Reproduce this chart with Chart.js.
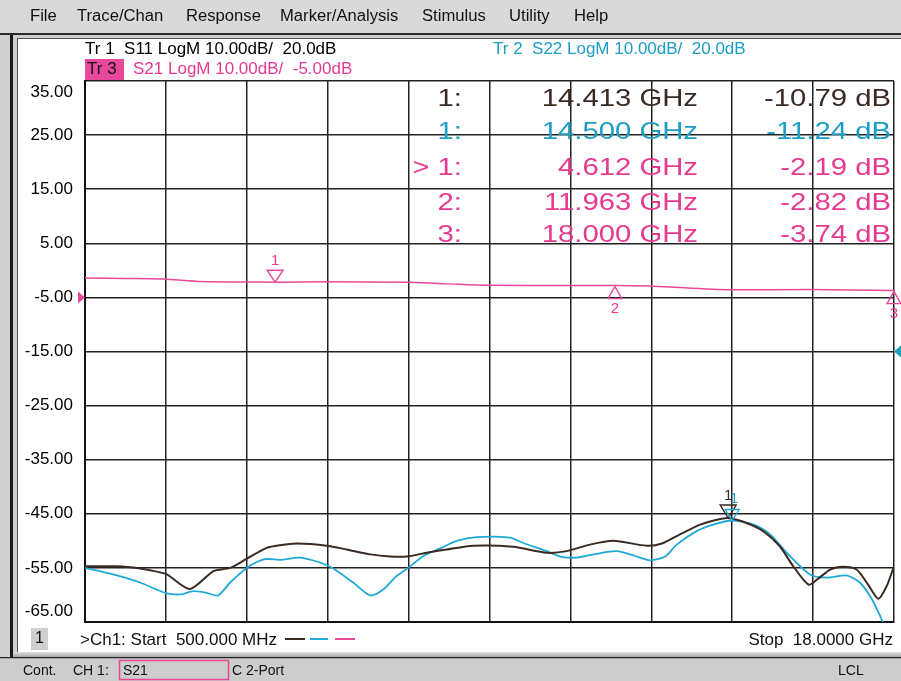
<!DOCTYPE html>
<html>
<head>
<meta charset="utf-8">
<script src="https://cdn.jsdelivr.net/npm/chart.js@4.4.1/dist/chart.umd.min.js"></script>
<style>
  body { margin: 0; background: #fff; }
</style>
</head>
<body>
<canvas id="vna" width="901" height="681"></canvas>
<script>
// sweep (GHz)
const startGHz = 0.5;
const stopGHz = 18.0;

// Tr 1 - S11 (dB)
const s11Freq = [0.5, 1.2, 1.69, 2.0, 2.27, 2.77, 3.28, 3.64, 4.0, 4.43, 4.72, 5.08, 5.73, 6.16, 6.67, 7.1, 7.46, 7.89, 8.32, 8.9, 9.76, 10.49, 10.92, 11.42, 11.93, 12.65, 12.98, 13.37, 13.81, 14.17, 14.413, 14.81, 15.17, 15.53, 15.82, 16.15, 16.33, 16.62, 16.9, 17.19, 17.44, 17.66, 17.84, 18.0];
const s11Db = [-19.7, -19.7, -20.1, -20.6, -21.2, -23.9, -20.6, -20.0, -18.3, -16.3, -15.8, -15.5, -15.9, -16.6, -17.5, -17.9, -17.9, -17.2, -16.6, -15.9, -16.1, -17.2, -16.9, -15.7, -15.0, -15.9, -15.5, -13.8, -12.0, -11.1, -10.79, -11.7, -13.2, -16.0, -19.7, -23.1, -22.2, -20.3, -19.8, -20.3, -23.1, -25.7, -23.4, -19.7];

// Tr 2 - S22 (dB), cyan trace
const s22Freq = [0.5, 1.11, 1.69, 2.23, 2.56, 2.84, 3.13, 3.38, 3.64, 4.0, 4.39, 4.72, 5.15, 5.58, 5.87, 6.3, 6.67, 6.95, 7.24, 7.49, 7.82, 8.18, 8.54, 8.97, 9.69, 9.98, 10.49, 10.78, 11.14, 11.5, 12.0, 12.36, 12.72, 13.05, 13.3, 13.73, 14.09, 14.5, 14.96, 15.32, 15.68, 16.18, 16.54, 16.97, 17.26, 17.51, 17.69, 17.82, 18.0];
const s22Db = [-20.0, -21.2, -22.7, -24.6, -24.9, -24.3, -24.6, -25.1, -22.7, -20.0, -18.4, -18.5, -18.1, -19.0, -20.1, -22.7, -25.1, -24.0, -21.5, -20.0, -17.8, -16.4, -15.0, -14.3, -14.4, -15.4, -16.9, -17.9, -18.1, -17.5, -16.9, -17.7, -18.6, -17.9, -15.7, -13.2, -12.0, -11.24, -12.0, -13.8, -17.2, -21.2, -21.8, -21.4, -22.7, -25.6, -28.7, -31.0, -32.0];

// Tr 3 - S21 (dB), pink trace
const s21Freq = [0.5, 1.4, 2.2, 3.0, 4.0, 4.612, 5.7, 7.5, 8.4, 9.2, 11.0, 11.963, 12.7, 13.6, 14.5, 16.2, 18.0];
const s21Db = [-1.4, -1.5, -1.6, -2.05, -2.15, -2.19, -2.1, -2.2, -2.5, -2.75, -2.8, -2.82, -2.9, -3.3, -3.6, -3.55, -3.74];

// markers
const s11MarkerFreq = [14.413];
const s11MarkerDb = [-10.79];
const s22MarkerFreq = [14.5];
const s22MarkerDb = [-11.24];
const s21MarkerFreq = [4.612, 11.963, 18.0];
const s21MarkerDb = [-2.19, -2.82, -3.74];

// axis labels (S21 scale, 10 dB/div, ref -5 dB)
const yTickLabels = [35, 25, 15, 5, -5, -15, -25, -35, -45, -55, -65];
// S11/S22 scale: 10 dB/div, ref 20 dB at the -15 line
const refS21 = -5;
const refS11S22 = 20;

const menuItems = ['File', 'Trace/Chan', 'Response', 'Marker/Analysis', 'Stimulus', 'Utility', 'Help'];
const menuX = [30, 77, 186, 280, 422, 509, 574];

const BROWN = '#3b2a22';
const CYAN = '#1fa9d6';
const PINK = '#e8489a';
const PINK_TXT = '#e63a90';
const CYAN_TXT = '#1c9ec4';
const FONT = '"Liberation Sans", Arial, sans-serif';

function txt(ctx, s, x, y, size, color, align, opts) {
  opts = opts || {};
  ctx.save();
  ctx.font = (opts.bold ? 'bold ' : '') + size + 'px ' + FONT;
  ctx.fillStyle = color;
  ctx.textAlign = align || 'left';
  ctx.textBaseline = 'middle';
  ctx.translate(x, y);
  ctx.scale(opts.sx || 1, 1);
  ctx.fillText(s, 0, 0);
  ctx.restore();
}

function tri(ctx, x, y, down, color, w, h) {
  ctx.save();
  ctx.strokeStyle = color;
  ctx.lineWidth = 1.4;
  ctx.beginPath();
  if (down) {
    ctx.moveTo(x, y); ctx.lineTo(x - w, y - h); ctx.lineTo(x + w, y - h);
  } else {
    ctx.moveTo(x, y); ctx.lineTo(x - w, y + h); ctx.lineTo(x + w, y + h);
  }
  ctx.closePath();
  ctx.stroke();
  ctx.restore();
}

const toXY = (f, d) => f.map((v, i) => ({ x: v, y: d[i] }));

const frame = {
  id: 'frame',
  beforeDraw(chart) {
    const ctx = chart.ctx;
    ctx.save();
    // outer grey
    ctx.fillStyle = '#cfcfcf';
    ctx.fillRect(0, 0, 901, 681);
    // menu bar
    ctx.fillStyle = '#d9d9d9';
    ctx.fillRect(0, 0, 901, 33);
    ctx.fillStyle = '#2a2a2a';
    ctx.fillRect(0, 33, 901, 2);
    // left frame
    ctx.fillStyle = '#1a1a1a';
    ctx.fillRect(10, 35, 3, 622);
    // white panel
    ctx.fillStyle = '#fff';
    ctx.fillRect(18, 39, 883, 613);
    ctx.strokeStyle = '#555';
    ctx.lineWidth = 1;
    ctx.strokeRect(17.5, 38.5, 890, 614);
    // status bar
    const g = ctx.createLinearGradient(0, 652, 0, 657);
    g.addColorStop(0, '#e0e0e0');
    g.addColorStop(1, '#a8a8a8');
    ctx.fillStyle = g;
    ctx.fillRect(13, 652, 888, 5);
    ctx.fillStyle = '#222';
    ctx.fillRect(0, 657, 901, 1.5);
    ctx.fillStyle = '#cdcdcd';
    ctx.fillRect(0, 658.5, 901, 23);
    ctx.restore();

    menuItems.forEach((m, i) => txt(ctx, m, menuX[i], 17, 16, '#111', 'left', { sx: 1.04 }));

    txt(ctx, 'Cont.', 23, 671, 14, '#111');
    txt(ctx, 'CH 1:', 73, 671, 14, '#111');
    ctx.save();
    ctx.strokeStyle = PINK;
    ctx.lineWidth = 1.5;
    ctx.strokeRect(119.5, 660.5, 109, 19);
    ctx.restore();
    txt(ctx, 'S21', 123, 671, 14, '#111');
    txt(ctx, 'C 2-Port', 232, 671, 14, '#111');
    txt(ctx, 'LCL', 838, 671, 14, '#111');
  },
  afterDraw(chart) {
    const ctx = chart.ctx;
    const xs = chart.scales.x;
    const ys = chart.scales.y;
    const y2 = chart.scales.y2;
    const area = chart.chartArea;

    // y labels
    yTickLabels.forEach(v => {
      let py = ys.getPixelForValue(v);
      py = Math.min(Math.max(py, area.top + 11), area.bottom - 11);
      txt(ctx, v.toFixed(2), 73, py, 17, '#000', 'right');
    });

    // trace headers
    txt(ctx, 'Tr 1  S11 LogM 10.00dB/  20.0dB', 85, 49, 17, '#000');
    txt(ctx, 'Tr 2  S22 LogM 10.00dB/  20.0dB', 493, 49, 17, CYAN_TXT);
    ctx.fillStyle = PINK;
    ctx.fillRect(85, 59, 39, 21);
    txt(ctx, 'Tr 3', 87, 69, 17, '#111');
    txt(ctx, 'S21 LogM 10.00dB/  -5.00dB', 133, 69, 17, PINK_TXT);

    // marker readout table
    const rows = [
      ['1:', s11MarkerFreq[0], s11MarkerDb[0], BROWN, 99],
      ['1:', s22MarkerFreq[0], s22MarkerDb[0], CYAN_TXT, 132],
      ['> 1:', s21MarkerFreq[0], s21MarkerDb[0], PINK_TXT, 168],
      ['2:', s21MarkerFreq[1], s21MarkerDb[1], PINK_TXT, 203],
      ['3:', s21MarkerFreq[2], s21MarkerDb[2], PINK_TXT, 235]
    ];
    rows.forEach(r => {
      txt(ctx, r[0], 462, r[4], 24, r[3], 'right', { sx: 1.22 });
      txt(ctx, r[1].toFixed(3) + ' GHz', 698, r[4], 24, r[3], 'right', { sx: 1.22 });
      txt(ctx, r[2].toFixed(2) + ' dB', 891, r[4], 24, r[3], 'right', { sx: 1.22 });
    });

    // S21 markers
    s21MarkerFreq.forEach((f, i) => {
      const px = xs.getPixelForValue(f);
      const py = ys.getPixelForValue(s21MarkerDb[i]);
      if (i === 0) {
        tri(ctx, px, py, true, PINK, 8, 12);
        txt(ctx, String(i + 1), px, py - 21, 15, PINK_TXT, 'center');
      } else {
        tri(ctx, px, py + 1, false, PINK, 7, 12);
        txt(ctx, String(i + 1), px, py + 23, 15, PINK_TXT, 'center');
      }
    });
    // S11 / S22 markers
    const bx = xs.getPixelForValue(s11MarkerFreq[0]);
    const by = y2.getPixelForValue(s11MarkerDb[0]);
    tri(ctx, bx, by, true, BROWN, 8, 13);
    txt(ctx, '1', bx, by - 22, 15, BROWN, 'center');
    const cx = xs.getPixelForValue(s22MarkerFreq[0]);
    const cy = y2.getPixelForValue(s22MarkerDb[0]);
    tri(ctx, cx, cy, true, CYAN, 7, 11);
    txt(ctx, '1', cx + 2, cy - 22, 15, CYAN_TXT, 'center');

    // reference arrows
    const ry = ys.getPixelForValue(refS21);
    ctx.save();
    ctx.fillStyle = PINK;
    ctx.beginPath();
    ctx.moveTo(78, ry - 6); ctx.lineTo(85, ry); ctx.lineTo(78, ry + 6); ctx.closePath();
    ctx.fill();
    const cyRef = y2.getPixelForValue(refS11S22);
    ctx.fillStyle = '#16a0b8';
    ctx.beginPath();
    ctx.moveTo(901, cyRef - 6); ctx.lineTo(894, cyRef); ctx.lineTo(901, cyRef + 6); ctx.closePath();
    ctx.fill();
    ctx.restore();

    // bottom info line
    ctx.save();
    ctx.fillStyle = '#cfcfcf';
    ctx.fillRect(31, 628, 17, 22);
    ctx.restore();
    txt(ctx, '1', 39.5, 639, 16, '#111', 'center');
    txt(ctx, '>Ch1: Start  500.000 MHz', 80, 640, 17, '#111');
    [[285, 305, BROWN], [310, 328, CYAN], [335, 355, PINK]].forEach(l => {
      ctx.save();
      ctx.strokeStyle = l[2];
      ctx.lineWidth = 2;
      ctx.beginPath();
      ctx.moveTo(l[0], 639); ctx.lineTo(l[1], 639);
      ctx.stroke();
      ctx.restore();
    });
    txt(ctx, 'Stop  18.0000 GHz', 893, 640, 17, '#111', 'right');
  }
};

const gridOpts = { color: '#222', lineWidth: 1.5, drawTicks: false };
const borderOpts = { display: true, color: '#111', width: 2 };

new Chart(document.getElementById('vna').getContext('2d'), {
  type: 'line',
  data: {
    datasets: [
      { label: 'S11', data: toXY(s11Freq, s11Db), borderColor: BROWN, borderWidth: 2, pointRadius: 0, tension: 0.25, yAxisID: 'y2' },
      { label: 'S22', data: toXY(s22Freq, s22Db), borderColor: CYAN, borderWidth: 1.8, pointRadius: 0, tension: 0.25, yAxisID: 'y2' },
      { label: 'S21', data: toXY(s21Freq, s21Db), borderColor: PINK, borderWidth: 1.5, pointRadius: 0, tension: 0.2, yAxisID: 'y' }
    ]
  },
  options: {
    responsive: false,
    animation: false,
    layout: { padding: { left: 85, top: 81, right: 7, bottom: 59 } },
    plugins: { legend: { display: false }, tooltip: { enabled: false } },
    scales: {
      x: {
        type: 'linear', min: startGHz, max: stopGHz,
        afterBuildTicks: s => {
          const step = (stopGHz - startGHz) / 10;
          s.ticks = [];
          for (let i = 0; i <= 10; i++) s.ticks.push({ value: startGHz + i * step });
        },
        ticks: { display: false },
        grid: gridOpts,
        border: borderOpts
      },
      y: {
        min: -65, max: 35,
        afterBuildTicks: s => { s.ticks = yTickLabels.map(v => ({ value: v })); },
        ticks: { display: false },
        grid: gridOpts,
        border: borderOpts
      },
      y2: { display: false, min: -30, max: 70 }
    }
  },
  plugins: [frame]
});
</script>
</body>
</html>
